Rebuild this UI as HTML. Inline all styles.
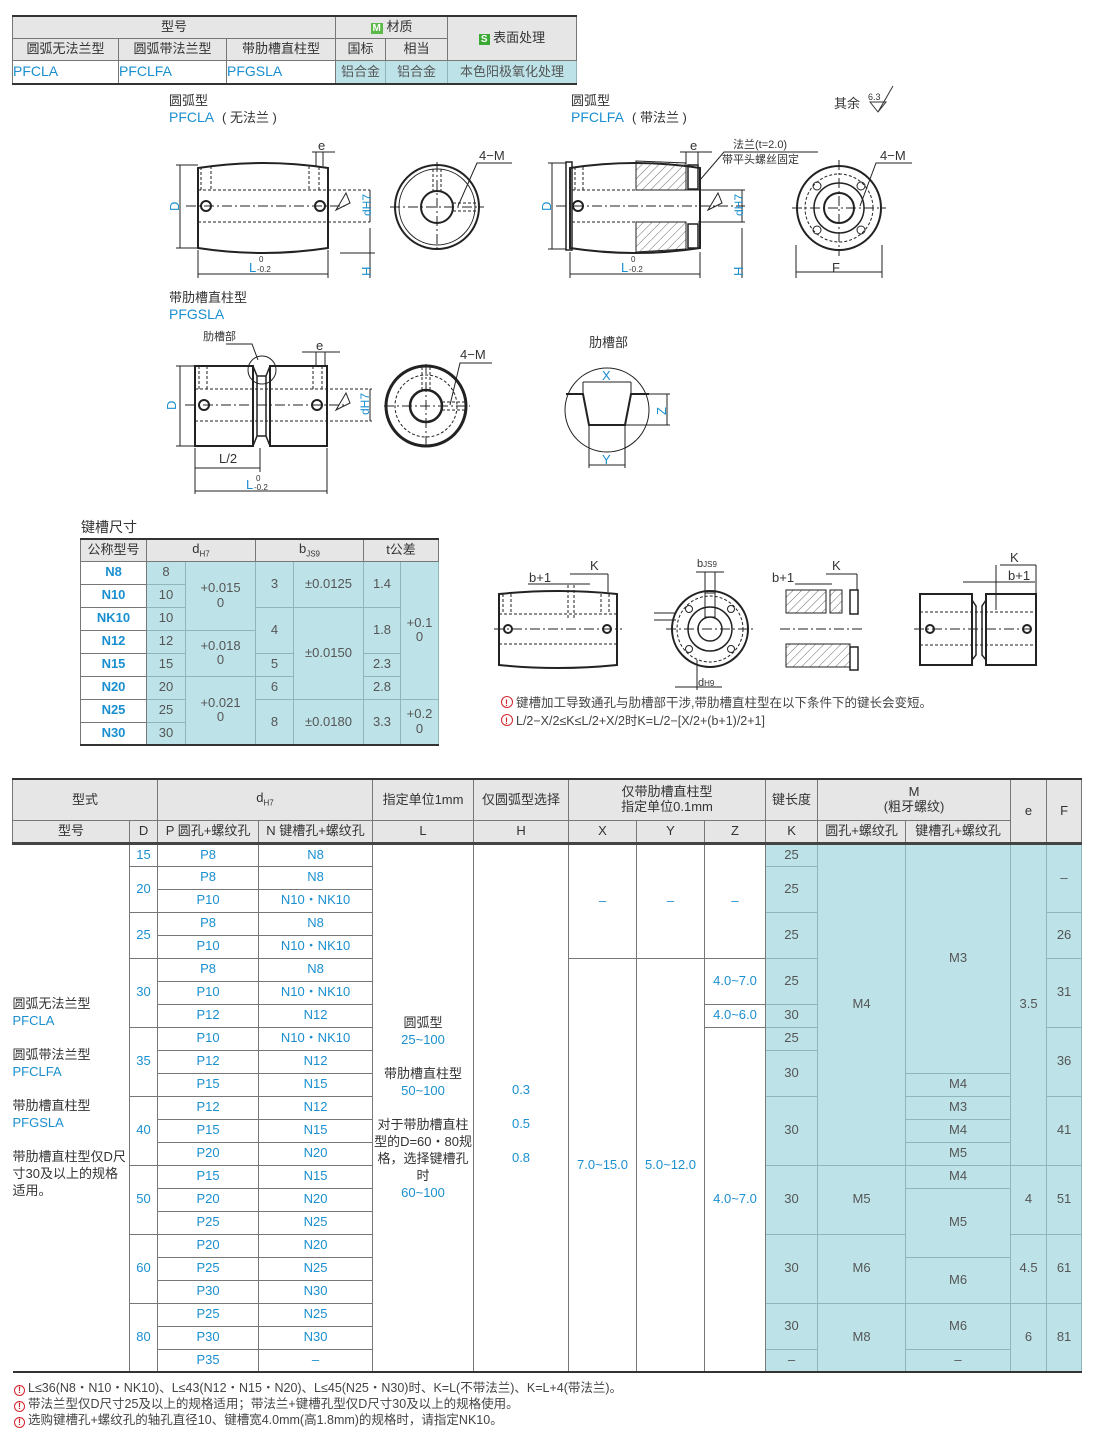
<!DOCTYPE html>
<html><head><meta charset="utf-8">
<style>
*{margin:0;padding:0;box-sizing:border-box}
body{width:1100px;height:1433px;background:#fff;position:relative;overflow:hidden;font-family:"Liberation Sans","Noto Sans CJK SC",sans-serif;color:#333}
.abs{position:absolute}
table{border-collapse:collapse;table-layout:fixed;position:absolute}
td{text-align:center;vertical-align:middle;font-size:13px;border:1px solid #777;padding:0;line-height:1.1;overflow:hidden;white-space:nowrap}
.h td{background:#e6e6e6;color:#333}
.t{background:#bde3e8;color:#555;border-color:#8fb6bb}
.b{color:#1a8fd0}
.bb{color:#1a8fd0;font-weight:bold}
.w{background:#fff}
.g{color:#555}
.note{font-size:12.5px;color:#444;white-space:nowrap}
.ic{display:inline-block;width:11px;height:11px;border:1.3px solid #d2232a;border-radius:50%;color:#d2232a;font-size:9px;line-height:9px;text-align:center;font-weight:bold;margin-right:3px;vertical-align:-1px}
</style></head><body>

<!-- Top table -->
<table style="left:12px;top:15px;width:564px;border-top:2px solid #333;border-bottom:2px solid #333">
<colgroup><col style="width:106px"><col style="width:108px"><col style="width:109px"><col style="width:50px"><col style="width:62px"><col style="width:129px"></colgroup>
<tr class="h" style="height:22px"><td colspan="3">型号</td><td colspan="2"><span style="background:#5bb947;color:#fff;font-size:10px;padding:0 2px;font-weight:bold">M</span> 材质</td><td rowspan="2"><span style="background:#3aaa35;color:#fff;font-size:10px;padding:0 2px;font-weight:bold">S</span> 表面处理</td></tr>
<tr class="h" style="height:22px"><td>圆弧无法兰型</td><td>圆弧带法兰型</td><td>带肋槽直柱型</td><td>国标</td><td>相当</td></tr>
<tr style="height:24px"><td class="b" style="text-align:left;font-size:14px">PFCLA</td><td class="b" style="text-align:left;font-size:14px">PFCLFA</td><td class="b" style="text-align:left;font-size:14px">PFGSLA</td><td class="t">铝合金</td><td class="t">铝合金</td><td class="t">本色阳极氧化处理</td></tr>
</table>

<!-- Drawings -->
<svg class="abs" style="left:0;top:0" width="1100" height="780" font-family="Liberation Sans, Noto Sans CJK SC, sans-serif">
<defs><pattern id="hat" width="6" height="6" patternUnits="userSpaceOnUse" patternTransform="rotate(45)"><line x1="0" y1="0" x2="0" y2="6" stroke="#444" stroke-width="0.8"/></pattern></defs>
<g font-size="13" fill="#333">
<text x="169" y="105">圆弧型</text>
<text x="169" y="122" fill="#1a8fd0" font-size="14">PFCLA</text><text x="222" y="122">( 无法兰 )</text>
<text x="571" y="105">圆弧型</text>
<text x="571" y="122" fill="#1a8fd0" font-size="14">PFCLFA</text><text x="632" y="122">( 带法兰 )</text>
<text x="834" y="108">其余</text>
<text x="169" y="302">带肋槽直柱型</text>
<text x="169" y="319" fill="#1a8fd0" font-size="14">PFGSLA</text>
<text x="589" y="347">肋槽部</text>
<text x="81" y="532" font-size="14">键槽尺寸</text>
</g>
<text x="868" y="100" font-size="9" fill="#333">6.3</text>
<path d="M870 102 L878 112 L886 102 Z M878 112 L893 86" fill="none" stroke="#333"/>

<g stroke="#222" fill="none" stroke-width="1">
<path d="M198 168 Q263 158 328 168 L328 248 Q263 258 198 248 Z" stroke-width="2"/>
<line x1="186" y1="206" x2="345" y2="206" stroke-dasharray="10 3 2 3"/>
<line x1="198" y1="190" x2="370" y2="190" stroke-dasharray="3 2"/>
<line x1="198" y1="222" x2="370" y2="222" stroke-dasharray="3 2"/>
<path d="M201 167V190M211 166V190M309 166V190M319 167V190" stroke-dasharray="3 2"/>
<circle cx="206" cy="206" r="5" stroke-width="2"/><circle cx="320" cy="206" r="5" stroke-width="2"/>
<line x1="180" y1="165" x2="180" y2="248"/><line x1="176" y1="165" x2="198" y2="165"/><line x1="176" y1="248" x2="198" y2="248"/>
<line x1="198" y1="250" x2="198" y2="278"/><line x1="328" y1="250" x2="328" y2="278"/><line x1="198" y1="274" x2="328" y2="274"/>
<line x1="312" y1="152" x2="335" y2="152"/><line x1="316" y1="152" x2="316" y2="166"/><line x1="323" y1="152" x2="323" y2="166"/>
<line x1="370" y1="190" x2="370" y2="222"/><line x1="370" y1="228" x2="370" y2="278"/><line x1="340" y1="253" x2="375" y2="253"/>
<path d="M336 210 L346 193 L350 203 Z"/>
<circle cx="437" cy="207" r="42" stroke-width="2"/><circle cx="437" cy="207" r="38"/><circle cx="437" cy="207" r="16" stroke-width="2"/>
<line x1="390" y1="207" x2="484" y2="207" stroke-dasharray="10 3 2 3"/><line x1="437" y1="162" x2="437" y2="252" stroke-dasharray="10 3 2 3"/>
<path d="M433 169V191M441 169V191M453 203H478M453 211H478" stroke-dasharray="3 2"/>
<path d="M458 206 L477 163 L512 163"/>
<path d="M570 168 Q635 158 700 168 L700 248 Q635 258 570 248 Z" stroke-width="2"/>
<rect x="566" y="162" width="6" height="88" stroke-width="1.5"/>
<rect x="688" y="165" width="10" height="24" stroke-width="1.5"/><rect x="688" y="224" width="10" height="24" stroke-width="1.5"/>
<path d="M636 161 L686 163 L686 190 L636 190 Z" fill="url(#hat)"/>
<path d="M636 222 L686 222 L686 249 L636 252 Z" fill="url(#hat)"/>
<line x1="556" y1="206" x2="745" y2="206" stroke-dasharray="10 3 2 3"/>
<line x1="572" y1="190" x2="636" y2="190" stroke-dasharray="3 2"/><line x1="686" y1="190" x2="745" y2="190"/>
<line x1="572" y1="222" x2="636" y2="222" stroke-dasharray="3 2"/><line x1="698" y1="222" x2="745" y2="222"/>
<path d="M575 167V190M583 167V190" stroke-dasharray="3 2"/>
<circle cx="578" cy="206" r="5" stroke-width="2"/>
<line x1="552" y1="163" x2="552" y2="249"/><line x1="548" y1="163" x2="566" y2="163"/><line x1="548" y1="249" x2="566" y2="249"/>
<line x1="570" y1="252" x2="570" y2="278"/><line x1="700" y1="252" x2="700" y2="278"/><line x1="570" y1="274" x2="700" y2="274"/>
<line x1="680" y1="152" x2="712" y2="152"/><line x1="686" y1="152" x2="686" y2="166"/><line x1="698" y1="152" x2="698" y2="166"/>
<path d="M700 180 L724 152 L818 152"/>
<line x1="742" y1="190" x2="742" y2="222"/><line x1="742" y1="228" x2="742" y2="278"/>
<path d="M708 210 L718 193 L722 203 Z"/>
<circle cx="839" cy="208" r="42" stroke-width="2"/><circle cx="839" cy="208" r="34" stroke-dasharray="3 2"/><circle cx="839" cy="208" r="25" stroke-width="1.5"/><circle cx="839" cy="208" r="15" stroke-width="2"/>
<circle cx="817" cy="186" r="4"/><circle cx="861" cy="186" r="4"/><circle cx="817" cy="230" r="4"/><circle cx="861" cy="230" r="4"/>
<line x1="792" y1="208" x2="886" y2="208" stroke-dasharray="10 3 2 3"/><line x1="839" y1="160" x2="839" y2="256" stroke-dasharray="10 3 2 3"/>
<path d="M860 206 L876 163 L912 163"/>
<line x1="796" y1="245" x2="796" y2="278"/><line x1="882" y1="245" x2="882" y2="278"/><line x1="796" y1="272" x2="882" y2="272"/>
<rect x="195" y="366" width="58" height="80" stroke-width="2"/><rect x="270" y="366" width="57" height="80" stroke-width="2"/>
<path d="M253 366 L257 376 L266 376 L270 366 M253 446 L257 436 L266 436 L270 446 M257 376V436 M266 376V436" stroke-width="1.5"/>
<circle cx="262" cy="370" r="14"/>
<path d="M226 344 L252 344 L258 360"/>
<line x1="185" y1="405" x2="345" y2="405" stroke-dasharray="10 3 2 3"/>
<line x1="195" y1="389" x2="372" y2="389" stroke-dasharray="3 2"/><line x1="195" y1="421" x2="372" y2="421" stroke-dasharray="3 2"/>
<path d="M199 366V389M207 366V389M313 366V389M322 366V389" stroke-dasharray="3 2"/>
<circle cx="204" cy="405" r="5" stroke-width="2"/><circle cx="317" cy="405" r="5" stroke-width="2"/>
<line x1="180" y1="366" x2="180" y2="446"/><line x1="176" y1="366" x2="195" y2="366"/><line x1="176" y1="446" x2="195" y2="446"/>
<line x1="195" y1="448" x2="195" y2="494"/><line x1="260" y1="448" x2="260" y2="472"/><line x1="327" y1="448" x2="327" y2="494"/>
<line x1="195" y1="468" x2="260" y2="468"/><line x1="195" y1="491" x2="327" y2="491"/>
<line x1="302" y1="352" x2="340" y2="352"/><line x1="316" y1="352" x2="316" y2="366"/><line x1="325" y1="352" x2="325" y2="366"/>
<line x1="370" y1="389" x2="370" y2="421"/>
<path d="M336 410 L346 393 L350 403 Z"/>
<circle cx="426" cy="406" r="40" stroke-width="3"/><circle cx="426" cy="406" r="31" stroke-dasharray="3 2"/><circle cx="426" cy="406" r="16" stroke-width="2.5"/>
<line x1="384" y1="406" x2="470" y2="406" stroke-dasharray="10 3 2 3"/><line x1="426" y1="364" x2="426" y2="448" stroke-dasharray="10 3 2 3"/>
<path d="M422 367V390M430 367V390M442 402H466M442 410H466" stroke-dasharray="3 2"/>
<path d="M450 405 L460 363 L492 363"/>
<circle cx="607" cy="410" r="42"/>
<path d="M566 394 L583 394 L589 425 L625 425 L631 394 L649 394" stroke-width="2"/>
<line x1="583" y1="382" x2="631" y2="382"/><line x1="583" y1="382" x2="583" y2="394"/><line x1="631" y1="382" x2="631" y2="394"/>
<line x1="589" y1="425" x2="589" y2="468"/><line x1="625" y1="425" x2="625" y2="468"/><line x1="589" y1="465" x2="625" y2="465"/>
<line x1="649" y1="394" x2="670" y2="394"/><line x1="625" y1="425" x2="670" y2="425"/><line x1="667" y1="394" x2="667" y2="425"/>
<path d="M499 594 Q558 588 617 594 L617 665 Q558 671 499 665 Z" stroke-width="2"/>
<line x1="494" y1="629" x2="622" y2="629" stroke-dasharray="10 3 2 3"/>
<line x1="499" y1="614" x2="617" y2="614" stroke-dasharray="3 2"/><line x1="499" y1="644" x2="617" y2="644" stroke-dasharray="3 2"/>
<circle cx="508" cy="629" r="4" stroke-width="2"/><circle cx="607" cy="629" r="4" stroke-width="2"/>
<path d="M503 594V614M511 594V614M601 594V614M609 594V614M568 585V620M574 585V620" stroke-dasharray="3 2"/>
<line x1="570" y1="574" x2="608" y2="574"/><line x1="608" y1="574" x2="608" y2="592"/><line x1="528" y1="584" x2="590" y2="584"/>
<circle cx="710" cy="629" r="38" stroke-width="2"/><circle cx="710" cy="629" r="33" stroke-dasharray="3 2"/><circle cx="710" cy="629" r="22" stroke-width="1.5"/><circle cx="710" cy="629" r="12" stroke-width="1.5"/>
<circle cx="689" cy="609" r="3.5"/><circle cx="731" cy="609" r="3.5"/><circle cx="689" cy="649" r="3.5"/><circle cx="731" cy="649" r="3.5"/>
<rect x="705" y="593" width="10" height="24"/>
<line x1="666" y1="629" x2="754" y2="629" stroke-dasharray="10 3 2 3"/>
<line x1="696" y1="572" x2="724" y2="572"/><line x1="705" y1="572" x2="705" y2="593"/><line x1="715" y1="572" x2="715" y2="593"/>
<line x1="675" y1="687" x2="722" y2="687"/><line x1="697" y1="660" x2="697" y2="690"/>
<line x1="654" y1="613" x2="676" y2="613"/><line x1="654" y1="620" x2="676" y2="620"/>
<path d="M786 590 L826 590 L826 613 L786 613 Z" fill="url(#hat)"/>
<path d="M786 644 L850 644 L850 667 L786 667 Z" fill="url(#hat)"/>
<rect x="830" y="590" width="12" height="23" fill="url(#hat)"/>
<rect x="850" y="590" width="8" height="24" stroke-width="1.5"/><rect x="850" y="647" width="8" height="23" stroke-width="1.5"/>
<line x1="780" y1="629" x2="862" y2="629" stroke-dasharray="10 3 2 3"/>
<line x1="795" y1="584" x2="832" y2="584"/><line x1="826" y1="574" x2="857" y2="574"/><line x1="857" y1="574" x2="857" y2="590"/>
<rect x="920" y="594" width="52" height="71" stroke-width="2"/><rect x="986" y="594" width="50" height="71" stroke-width="2"/>
<path d="M972 600 L976 606V655 L972 660 M986 600 L982 606V655 L986 660" stroke-width="1.5"/>
<line x1="914" y1="629" x2="1040" y2="629" stroke-dasharray="10 3 2 3"/>
<line x1="920" y1="612" x2="1036" y2="612" stroke-dasharray="3 2"/><line x1="920" y1="645" x2="1036" y2="645" stroke-dasharray="3 2"/>
<circle cx="930" cy="629" r="4" stroke-width="2"/><circle cx="1027" cy="629" r="4" stroke-width="2"/>
<line x1="963" y1="582" x2="1035" y2="582"/><line x1="1000" y1="565" x2="1036" y2="565"/><line x1="1036" y1="565" x2="1036" y2="594"/><line x1="996" y1="565" x2="996" y2="610"/>
</g>
<g fill="#333" font-size="13">
<text x="318" y="150">e</text><text x="479" y="160">4−M</text>
<text x="690" y="150">e</text><text x="733" y="148" font-size="11">法兰(t=2.0)</text><text x="722" y="163" font-size="11">带平头螺丝固定</text><text x="880" y="160">4−M</text>
<text x="832" y="272">F</text>
<text x="203" y="340" font-size="11">肋槽部</text><text x="316" y="350">e</text><text x="460" y="359">4−M</text>
<text x="219" y="463">L/2</text>
<text x="529" y="582">b+1</text><text x="590" y="570">K</text>
<text x="697" y="567" font-size="11">b<tspan font-size="8">JS9</tspan></text><text x="698" y="686" font-size="11">d<tspan font-size="8">H9</tspan></text>
<text x="772" y="582">b+1</text><text x="832" y="570">K</text>
<text x="1010" y="562">K</text><text x="1008" y="580">b+1</text>
</g>
<g fill="#1a8fd0" font-size="13">
<text transform="translate(179,211) rotate(-90)">D</text>
<text transform="translate(551,211) rotate(-90)">D</text>
<text transform="translate(176,410) rotate(-90)">D</text>
<text transform="translate(371,216) rotate(-90)" font-size="12">dH7</text>
<text transform="translate(743,216) rotate(-90)" font-size="12">dH7</text>
<text transform="translate(369,415) rotate(-90)" font-size="12">dH7</text>
<text transform="translate(371,276) rotate(-90)">H</text>
<text transform="translate(743,276) rotate(-90)">H</text>
<text x="249" y="272">L</text><text x="259" y="262" font-size="8" fill="#333">0</text><text x="257" y="272" font-size="8" fill="#333">-0.2</text>
<text x="621" y="272">L</text><text x="631" y="262" font-size="8" fill="#333">0</text><text x="629" y="272" font-size="8" fill="#333">-0.2</text>
<text x="246" y="489">L</text><text x="256" y="481" font-size="8" fill="#333">0</text><text x="254" y="490" font-size="8" fill="#333">-0.2</text>
<text x="602" y="380">X</text><text x="602" y="464">Y</text>
<text transform="translate(666,415) rotate(-90)">Z</text>
</g>
<g class="note" font-size="13" fill="#444">
<circle cx="507" cy="702" r="5.5" fill="none" stroke="#d2232a"/><text x="505" y="706" font-size="9" fill="#d2232a" font-weight="bold">!</text>
<text x="516" y="707">键槽加工导致通孔与肋槽部干涉,带肋槽直柱型在以下条件下的键长会变短。</text>
<circle cx="507" cy="720" r="5.5" fill="none" stroke="#d2232a"/><text x="505" y="724" font-size="9" fill="#d2232a" font-weight="bold">!</text>
<text x="516" y="725">L/2−X/2≤K≤L/2+X/2时K=L/2−[X/2+(b+1)/2+1]</text>
</g>
</svg>

<!-- Key table -->
<table style="left:80px;top:538px;width:358px;border-top:2px solid #333;border-bottom:2px solid #333">
<colgroup><col style="width:66px"><col style="width:39px"><col style="width:70px"><col style="width:38px"><col style="width:70px"><col style="width:37px"><col style="width:38px"></colgroup>
<tr class="h" style="height:22px"><td>公称型号</td><td colspan="2">d<sub style="font-size:8px">H7</sub></td><td colspan="2">b<sub style="font-size:8px">JS9</sub></td><td colspan="2">t公差</td></tr>
<tr style="height:23px"><td class="bb">N8</td><td class="t">8</td><td class="t" rowspan="3">+0.015<br>0</td><td class="t" rowspan="2">3</td><td class="t" rowspan="2">±0.0125</td><td class="t" rowspan="2">1.4</td><td class="t" rowspan="6">+0.1<br>0</td></tr>
<tr style="height:23px"><td class="bb">N10</td><td class="t">10</td></tr>
<tr style="height:23px"><td class="bb">NK10</td><td class="t">10</td><td class="t" rowspan="2">4</td><td class="t" rowspan="4">±0.0150</td><td class="t" rowspan="2">1.8</td></tr>
<tr style="height:23px"><td class="bb">N12</td><td class="t">12</td><td class="t" rowspan="2">+0.018<br>0</td></tr>
<tr style="height:23px"><td class="bb">N15</td><td class="t">15</td><td class="t">5</td><td class="t">2.3</td></tr>
<tr style="height:23px"><td class="bb">N20</td><td class="t">20</td><td class="t" rowspan="3">+0.021<br>0</td><td class="t">6</td><td class="t">2.8</td></tr>
<tr style="height:23px"><td class="bb">N25</td><td class="t">25</td><td class="t" rowspan="2">8</td><td class="t" rowspan="2">±0.0180</td><td class="t" rowspan="2">3.3</td><td class="t" rowspan="2">+0.2<br>0</td></tr>
<tr style="height:23px"><td class="bb">N30</td><td class="t">30</td></tr>
</table>

<!-- Main table -->
<table style="left:12px;top:778px;width:1069px;border-top:2px solid #333;border-bottom:2px solid #333">
<colgroup><col style="width:117px"><col style="width:28px"><col style="width:101px"><col style="width:114px"><col style="width:101px"><col style="width:95px"><col style="width:68px"><col style="width:68px"><col style="width:61px"><col style="width:52px"><col style="width:88px"><col style="width:105px"><col style="width:36px"><col style="width:35px"></colgroup>
<tr class="h" style="height:41px"><td colspan="2">型式</td><td colspan="2">d<sub style="font-size:8px">H7</sub></td><td>指定单位1mm</td><td>仅圆弧型选择</td><td colspan="3">仅带肋槽直柱型<br>指定单位0.1mm</td><td>键长度</td><td colspan="2">M<br>(粗牙螺纹)</td><td rowspan="2">e</td><td rowspan="2">F</td></tr>
<tr class="h" style="height:23px;border-bottom:3px solid #444"><td>型号</td><td>D</td><td>P 圆孔+螺纹孔</td><td>N 键槽孔+螺纹孔</td><td>L</td><td>H</td><td>X</td><td>Y</td><td>Z</td><td>K</td><td>圆孔+螺纹孔</td><td>键槽孔+螺纹孔</td></tr>
<tr style="height:23px">
<td rowspan="23" style="text-align:left;vertical-align:top;padding-top:150px;line-height:17px;white-space:normal;font-size:13px;border-left:none">圆弧无法兰型<br><span class="b">PFCLA</span><br><br>圆弧带法兰型<br><span class="b">PFCLFA</span><br><br>带肋槽直柱型<br><span class="b">PFGSLA</span><br><br>带肋槽直柱型仅D尺寸30及以上的规格适用。</td>
<td class="b">15</td><td class="b">P8</td><td class="b">N8</td>
<td rowspan="23" style="line-height:17px;font-size:13px;white-space:normal">圆弧型<br><span class="b">25~100</span><br><br>带肋槽直柱型<br><span class="b">50~100</span><br><br>对于带肋槽直柱型的D=60・80规格，选择键槽孔时<br><span class="b">60~100</span></td>
<td rowspan="23" class="b" style="line-height:34px;padding-top:32px">0.3<br>0.5<br>0.8</td>
<td rowspan="5" class="b">–</td><td rowspan="5" class="b">–</td><td rowspan="5" class="b">–</td>
<td class="t">25</td><td class="t" rowspan="14">M4</td><td class="t" rowspan="10">M3</td><td class="t" rowspan="14">3.5</td><td class="t" rowspan="3">–</td></tr>
<tr style="height:23px"><td class="b" rowspan="2">20</td><td class="b">P8</td><td class="b">N8</td><td class="t" rowspan="2">25</td></tr>
<tr style="height:23px"><td class="b">P10</td><td class="b">N10・NK10</td></tr>
<tr style="height:23px"><td class="b" rowspan="2">25</td><td class="b">P8</td><td class="b">N8</td><td class="t" rowspan="2">25</td><td class="t" rowspan="2">26</td></tr>
<tr style="height:23px"><td class="b">P10</td><td class="b">N10・NK10</td></tr>
<tr style="height:23px"><td class="b" rowspan="3">30</td><td class="b">P8</td><td class="b">N8</td><td rowspan="18" class="b">7.0~15.0</td><td rowspan="18" class="b">5.0~12.0</td><td rowspan="2" class="b">4.0~7.0</td><td class="t" rowspan="2">25</td><td class="t" rowspan="3">31</td></tr>
<tr style="height:23px"><td class="b">P10</td><td class="b">N10・NK10</td></tr>
<tr style="height:23px"><td class="b">P12</td><td class="b">N12</td><td class="b">4.0~6.0</td><td class="t">30</td></tr>
<tr style="height:23px"><td class="b" rowspan="3">35</td><td class="b">P10</td><td class="b">N10・NK10</td><td rowspan="15" class="b">4.0~7.0</td><td class="t">25</td><td class="t" rowspan="3">36</td></tr>
<tr style="height:23px"><td class="b">P12</td><td class="b">N12</td><td class="t" rowspan="2">30</td></tr>
<tr style="height:23px"><td class="b">P15</td><td class="b">N15</td><td class="t">M4</td></tr>
<tr style="height:23px"><td class="b" rowspan="3">40</td><td class="b">P12</td><td class="b">N12</td><td class="t" rowspan="3">30</td><td class="t">M3</td><td class="t" rowspan="3">41</td></tr>
<tr style="height:23px"><td class="b">P15</td><td class="b">N15</td><td class="t">M4</td></tr>
<tr style="height:23px"><td class="b">P20</td><td class="b">N20</td><td class="t">M5</td></tr>
<tr style="height:23px"><td class="b" rowspan="3">50</td><td class="b">P15</td><td class="b">N15</td><td class="t" rowspan="3">30</td><td class="t" rowspan="3">M5</td><td class="t">M4</td><td class="t" rowspan="3">4</td><td class="t" rowspan="3">51</td></tr>
<tr style="height:23px"><td class="b">P20</td><td class="b">N20</td><td class="t" rowspan="3">M5</td></tr>
<tr style="height:23px"><td class="b">P25</td><td class="b">N25</td></tr>
<tr style="height:23px"><td class="b" rowspan="3">60</td><td class="b">P20</td><td class="b">N20</td><td class="t" rowspan="3">30</td><td class="t" rowspan="3">M6</td><td class="t" rowspan="3">4.5</td><td class="t" rowspan="3">61</td></tr>
<tr style="height:23px"><td class="b">P25</td><td class="b">N25</td><td class="t" rowspan="2">M6</td></tr>
<tr style="height:23px"><td class="b">P30</td><td class="b">N30</td></tr>
<tr style="height:23px"><td class="b" rowspan="3">80</td><td class="b">P25</td><td class="b">N25</td><td class="t" rowspan="2">30</td><td class="t" rowspan="3">M8</td><td class="t" rowspan="2">M6</td><td class="t" rowspan="3">6</td><td class="t" rowspan="3">81</td></tr>
<tr style="height:23px"><td class="b">P30</td><td class="b">N30</td></tr>
<tr style="height:23px"><td class="b">P35</td><td class="b">–</td><td class="t">–</td><td class="t">–</td></tr>
</table>

<div class="abs note" style="left:14px;top:1377px"><span class="ic">!</span>L≤36(N8・N10・NK10)、L≤43(N12・N15・N20)、L≤45(N25・N30)时、K=L(不带法兰)、K=L+4(带法兰)。</div>
<div class="abs note" style="left:14px;top:1393px"><span class="ic">!</span>带法兰型仅D尺寸25及以上的规格适用；带法兰+键槽孔型仅D尺寸30及以上的规格使用。</div>
<div class="abs note" style="left:14px;top:1409px"><span class="ic">!</span>选购键槽孔+螺纹孔的轴孔直径10、键槽宽4.0mm(高1.8mm)的规格时，请指定NK10。</div>
</body></html>
